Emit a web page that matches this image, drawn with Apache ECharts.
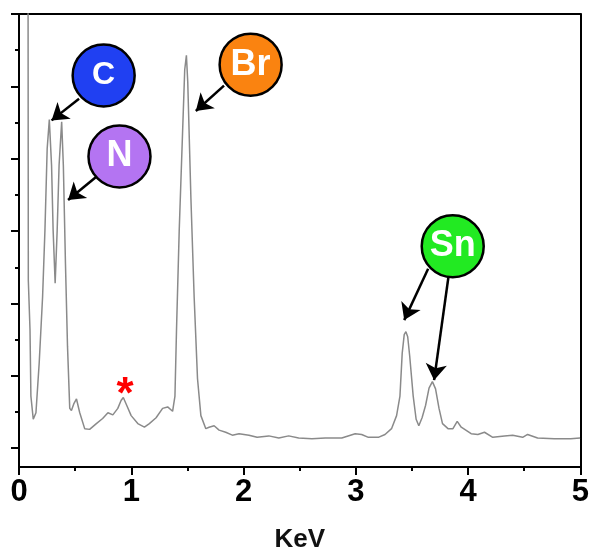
<!DOCTYPE html>
<html>
<head>
<meta charset="utf-8">
<script src="https://cdn.jsdelivr.net/npm/echarts@6/dist/echarts.min.js"></script>
<style>
  html, body { margin: 0; padding: 0; background: #fff; }
  #chart { width: 592px; height: 558px; }
</style>
</head>
<body>
<div id="chart"></div>
<script>
// Spectrum (KeV vs counts, arbitrary units)
const energy = [
  0.080, 0.083, 0.098, 0.106, 0.127, 0.151, 0.180, 0.210, 0.231, 0.251,
  0.270, 0.290, 0.304, 0.322, 0.340, 0.357, 0.380, 0.395, 0.414, 0.432,
  0.452, 0.467, 0.490, 0.512, 0.541, 0.585, 0.629, 0.689, 0.745, 0.792,
  0.836, 0.880, 0.909, 0.929, 0.960, 0.999, 1.058, 1.117, 1.161, 1.221,
  1.279, 1.324, 1.368, 1.389, 1.403, 1.427, 1.457, 1.476, 1.491, 1.503,
  1.531, 1.560, 1.590, 1.620, 1.664, 1.693, 1.738, 1.782, 1.841, 1.900,
  1.960, 2.048, 2.121, 2.225, 2.314, 2.402, 2.491, 2.609, 2.728, 2.875,
  2.994, 3.052, 3.112, 3.200, 3.260, 3.318, 3.363, 3.393, 3.413, 3.431,
  3.446, 3.462, 3.480, 3.511, 3.537, 3.561, 3.590, 3.621, 3.652, 3.682,
  3.710, 3.741, 3.772, 3.821, 3.865, 3.903, 3.939, 4.027, 4.087, 4.146,
  4.220, 4.324, 4.397, 4.486, 4.530, 4.619, 4.767, 4.914, 4.997
];
const counts = [
  7.56, 2.32, 1.64, 0.72, 0.40, 0.49, 1.18, 2.09, 3.01, 4.14,
  4.54, 3.91, 3.01, 2.28, 3.01, 3.91, 4.51, 3.91, 2.54, 1.41,
  0.55, 0.52, 0.62, 0.68, 0.49, 0.27, 0.26, 0.34, 0.41, 0.49,
  0.46, 0.55, 0.66, 0.70, 0.59, 0.45, 0.34, 0.29, 0.34, 0.42,
  0.55, 0.57, 0.51, 0.72, 1.64, 3.01, 4.37, 5.23, 5.43, 5.06,
  3.46, 2.09, 0.96, 0.45, 0.27, 0.29, 0.31, 0.25, 0.22, 0.18,
  0.20, 0.18, 0.15, 0.17, 0.14, 0.17, 0.14, 0.13, 0.14, 0.14,
  0.20, 0.19, 0.15, 0.15, 0.19, 0.27, 0.45, 0.72, 1.31, 1.57,
  1.61, 1.54, 1.27, 0.72, 0.40, 0.31, 0.42, 0.59, 0.83, 0.92,
  0.82, 0.55, 0.34, 0.27, 0.27, 0.37, 0.29, 0.20, 0.19, 0.22,
  0.15, 0.17, 0.18, 0.15, 0.19, 0.14, 0.13, 0.13, 0.14
];

// Axis ticks
const xTicks = [0, 1, 2, 3, 4, 5];
const yMajorTicks = [0, 1, 2, 3, 4, 5, 6];
const yMinorTicks = [0.5, 1.5, 2.5, 3.5, 4.5, 5.5];

// Element badges and arrows (data coordinates)
const elements = ['C', 'N', 'Br', 'Sn'];
const elementPos = [[0.754, 5.15], [0.895, 4.03], [2.063, 5.30], [3.863, 2.79]];
const elementColors = ['#2040f2', '#b474f2', '#fa8310', '#22ea22'];
const elementFontSize = [32, 36, 36, 36];
const arrowFrom = [[0.535, 4.83], [0.689, 3.75], [1.826, 5.01], [3.644, 2.48], [3.827, 2.39]];
const arrowTo = [[0.290, 4.53], [0.437, 3.43], [1.575, 4.66], [3.431, 1.77], [3.697, 0.94]];
const starPos = [0.945, 0.72];

const FONT = 'Liberation Sans, Arial, sans-serif';

const chart = echarts.init(document.getElementById('chart'));

const spectrum = energy.map((e, i) => [e, counts[i]]);

const badgeData = elements.map((name, i) => ({
    name: name,
    coord: elementPos[i],
    symbol: 'circle',
    symbolSize: 62,
    itemStyle: { color: elementColors[i], borderColor: '#000', borderWidth: 2.5 },
    label: {
        show: true, position: 'inside', formatter: name,
        color: '#fff', fontSize: elementFontSize[i], fontWeight: 'bold', fontFamily: FONT
    }
}));
badgeData.push({
    name: 'star',
    coord: starPos,
    symbol: 'circle',
    symbolSize: 2,
    itemStyle: { color: 'rgba(0,0,0,0)', borderWidth: 0 },
    label: {
        show: true, position: 'inside', formatter: '*',
        color: '#ff0000', fontSize: 44, fontWeight: 'bold', fontFamily: FONT
    }
});

const arrowData = arrowFrom.map((from, i) => [{ coord: from }, { coord: arrowTo[i] }]);

chart.setOption({
    animation: false,
    grid: { left: 19, right: 9, top: 14, bottom: 86, containLabel: false },
    xAxis: [
        {
            type: 'value', min: 0, max: 5, interval: 1,
            name: 'KeV', nameLocation: 'middle', nameGap: 60,
            nameTextStyle: { color: '#111', fontSize: 26, fontWeight: 'bold', fontFamily: FONT },
            axisLine: { onZero: false, lineStyle: { color: '#000', width: 2 } },
            axisTick: { length: 8, lineStyle: { color: '#000', width: 2 } },
            minorTick: { show: true, splitNumber: 2, length: 4, lineStyle: { color: '#000', width: 2 } },
            axisLabel: {
                margin: 10, color: '#000', fontSize: 31, fontWeight: 'bold', fontFamily: FONT,
                customValues: xTicks
            },
            splitLine: { show: false }
        },
        {
            type: 'value', position: 'top', min: 0, max: 5,
            axisLine: { onZero: false, lineStyle: { color: '#000', width: 2 } },
            axisTick: { show: false }, axisLabel: { show: false }, splitLine: { show: false }
        }
    ],
    yAxis: [
        {
            type: 'value', min: -0.26, max: 6,
            axisLine: { show: true, onZero: false, lineStyle: { color: '#000', width: 2 } },
            axisTick: { show: true, length: 8, customValues: yMajorTicks, lineStyle: { color: '#000', width: 2 } },
            axisLabel: { show: false },
            splitLine: { show: false }
        },
        {
            type: 'value', min: -0.26, max: 6, position: 'left',
            axisLine: { show: false, onZero: false },
            axisTick: { show: true, length: 4, customValues: yMinorTicks, lineStyle: { color: '#000', width: 2 } },
            axisLabel: { show: false },
            splitLine: { show: false }
        },
        {
            type: 'value', min: -0.26, max: 6, position: 'right',
            axisLine: { show: true, onZero: false, lineStyle: { color: '#000', width: 2 } },
            axisTick: { show: false }, axisLabel: { show: false }, splitLine: { show: false }
        }
    ],
    series: [
        {
            type: 'line',
            data: spectrum,
            showSymbol: false,
            clip: true,
            lineStyle: { color: '#8a8a8a', width: 1.5 },
            silent: true,
            markLine: {
                silent: true,
                symbol: ['none', 'arrow'],
                symbolSize: 16,
                label: { show: false },
                lineStyle: { color: '#000', width: 2.5, type: 'solid' },
                itemStyle: { color: '#000' },
                emphasis: { disabled: true },
                data: arrowData
            },
            markPoint: {
                silent: true,
                emphasis: { disabled: true },
                data: badgeData
            }
        }
    ]
});
</script>
</body>
</html>
